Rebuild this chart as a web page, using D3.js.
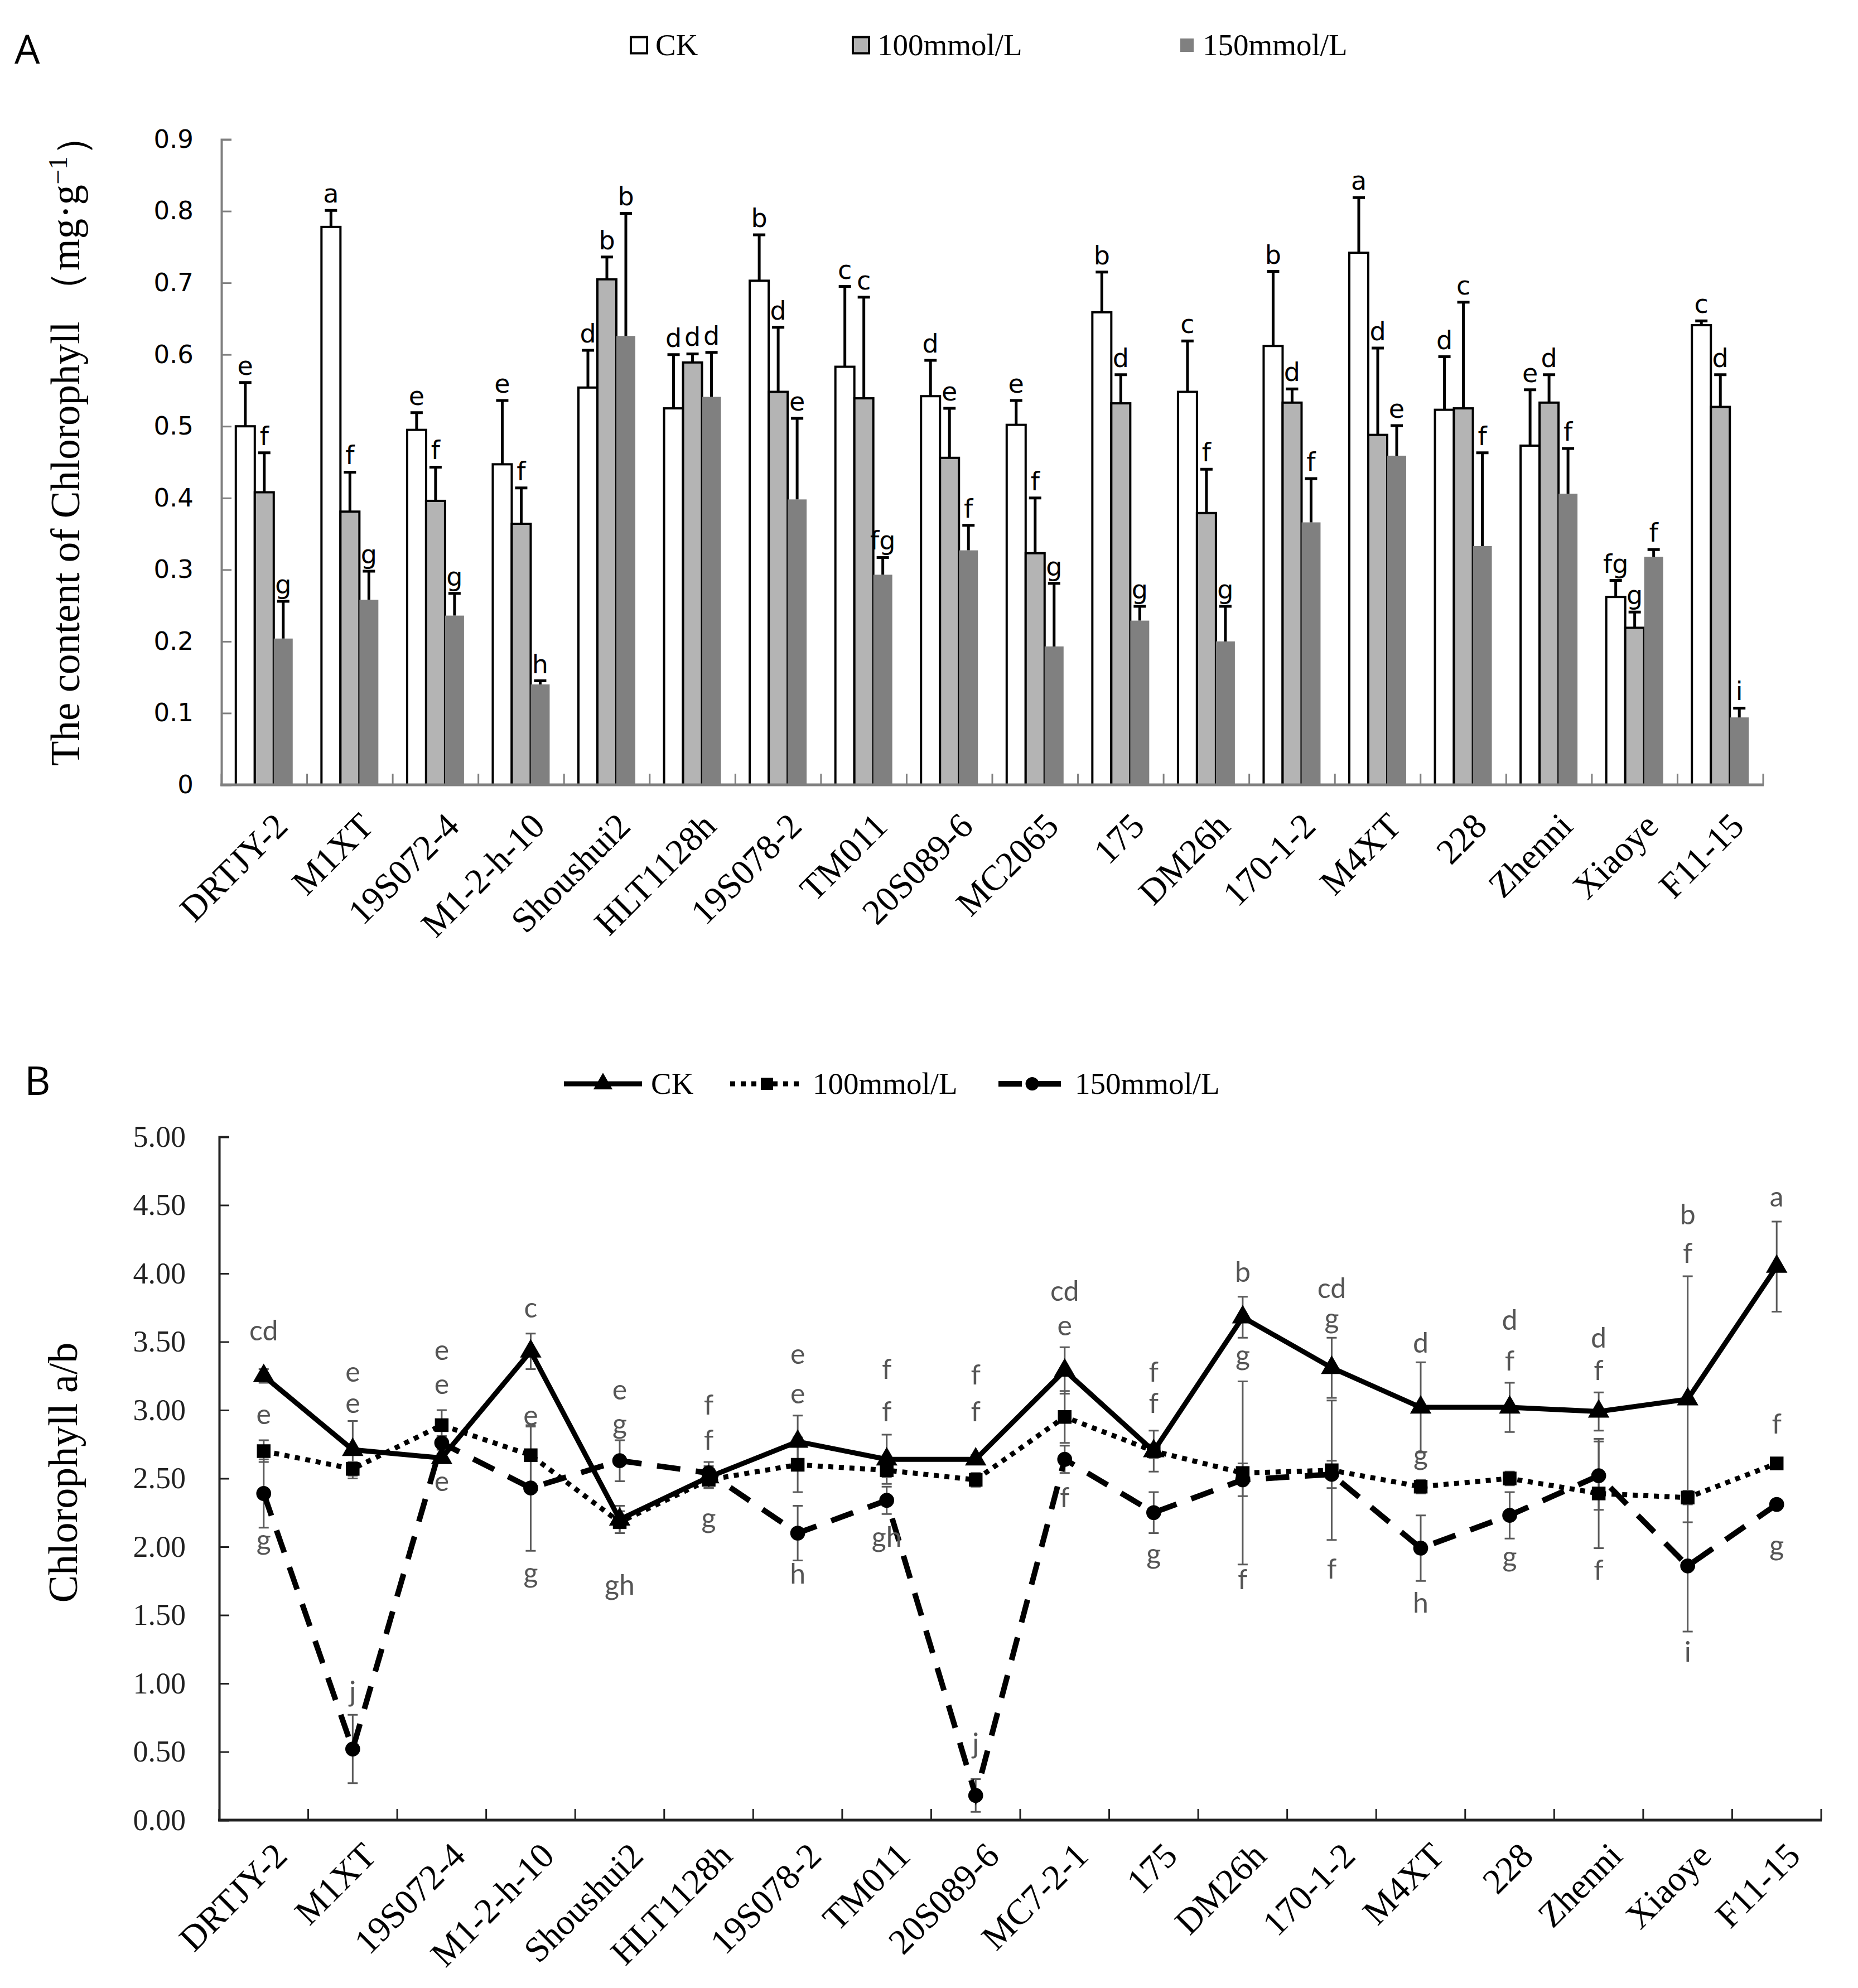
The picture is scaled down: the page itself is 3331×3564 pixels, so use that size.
<!DOCTYPE html>
<html>
<head>
<meta charset="utf-8">
<script src="https://cdn.jsdelivr.net/npm/d3@7"></script>
<style>
  body { margin: 0; background: #fff; }
  svg { display: block; }
</style>
</head>
<body>
<script>
// ---- data: panel A, chlorophyll content (mg/g) ----
var cultivarsA = ['DRTJY-2', 'M1XT', '19S072-4', 'M1-2-h-10', 'Shoushui2', 'HLT1128h', '19S078-2', 'TM011',
  '20S089-6', 'MC2065', '175', 'DM26h', '170-1-2', 'M4XT', '228', 'Zhenni', 'Xiaoye', 'F11-15'];
var ckA = [0.500, 0.778, 0.495, 0.447, 0.554, 0.525, 0.703, 0.583, 0.542, 0.502, 0.659, 0.548, 0.612, 0.742, 0.523, 0.473, 0.262, 0.641];
var ckSdA = [0.061, 0.023, 0.024, 0.089, 0.052, 0.075, 0.064, 0.112, 0.050, 0.034, 0.056, 0.071, 0.104, 0.077, 0.074, 0.078, 0.023, 0.006];
var ckLetA = ['e', 'a', 'e', 'e', 'd', 'd', 'b', 'c', 'd', 'e', 'b', 'c', 'b', 'a', 'd', 'e', 'fg', 'c'];
var t100A = [0.408, 0.381, 0.396, 0.364, 0.705, 0.589, 0.548, 0.539, 0.456, 0.323, 0.532, 0.379, 0.533, 0.488, 0.525, 0.533, 0.219, 0.527];
var t100SdA = [0.055, 0.055, 0.047, 0.050, 0.031, 0.012, 0.090, 0.141, 0.069, 0.077, 0.040, 0.061, 0.019, 0.121, 0.148, 0.039, 0.022, 0.045];
var t100LetA = ['f', 'f', 'f', 'f', 'b', 'd', 'd', 'c', 'e', 'f', 'd', 'f', 'd', 'd', 'c', 'd', 'g', 'd'];
var t150A = [0.204, 0.258, 0.236, 0.140, 0.626, 0.541, 0.398, 0.293, 0.327, 0.193, 0.229, 0.200, 0.366, 0.459, 0.333, 0.406, 0.318, 0.094];
var t150SdA = [0.052, 0.040, 0.031, 0.005, 0.171, 0.062, 0.113, 0.024, 0.035, 0.088, 0.020, 0.049, 0.061, 0.042, 0.130, 0.063, 0.010, 0.013];
var t150LetA = ['g', 'g', 'g', 'h', 'b', 'd', 'e', 'fg', 'f', 'g', 'g', 'g', 'f', 'e', 'f', 'f', 'f', 'i'];
var ticksA = [0, 0.1, 0.2, 0.3, 0.4, 0.5, 0.6, 0.7, 0.8, 0.9];

// ---- data: panel B, chlorophyll a/b ----
var cultivarsB = ['DRTJY-2', 'M1XT', '19S072-4', 'M1-2-h-10', 'Shoushui2', 'HLT1128h', '19S078-2', 'TM011',
  '20S089-6', 'MC7-2-1', '175', 'DM26h', '170-1-2', 'M4XT', '228', 'Zhenni', 'Xiaoye', 'F11-15'];
var ckB = [3.25, 2.71, 2.65, 3.43, 2.20, 2.51, 2.77, 2.64, 2.64, 3.29, 2.70, 3.68, 3.31, 3.02, 3.02, 2.99, 3.08, 4.05];
var ckSdB = [0.05, 0.21, 0.03, 0.13, 0.10, 0.08, 0.19, 0.18, 0.03, 0.17, 0.15, 0.15, 0.22, 0.33, 0.18, 0.14, 0.90, 0.33];
var t100B = [2.70, 2.57, 2.89, 2.67, 2.18, 2.49, 2.60, 2.56, 2.49, 2.95, 2.70, 2.54, 2.56, 2.44, 2.50, 2.39, 2.36, 2.61];
var t100SdB = [0.08, 0.05, 0.11, 0.21, 0.08, 0.06, 0.20, 0.05, 0.05, 0.19, 0.05, 0.67, 0.51, 0.05, 0.05, 0.40, 0.05, 0];
var t150B = [2.39, 0.52, 2.76, 2.43, 2.63, 2.54, 2.10, 2.34, 0.18, 2.64, 2.25, 2.49, 2.53, 1.99, 2.23, 2.52, 1.86, 2.31];
var t150SdB = [0.25, 0.25, 0.05, 0.46, 0.15, 0.08, 0.20, 0.10, 0.12, 0.10, 0.15, 0.12, 0.10, 0.24, 0.17, 0.25, 0.48, 0];
// significance letters of panel B, three per cultivar, with the value they sit at
var letB = [['cd', 'e', 'g'], ['e', 'e', 'j'], ['e', 'e', 'e'], ['c', 'e', 'g'], ['e', 'g', 'gh'], ['f', 'f', 'g'],
  ['e', 'e', 'h'], ['f', 'f', 'gh'], ['f', 'f', 'j'], ['cd', 'e', 'f'], ['f', 'f', 'g'], ['b', 'g', 'f'],
  ['cd', 'g', 'f'], ['d', 'g', 'h'], ['d', 'f', 'g'], ['d', 'f', 'f'], ['b', 'f', 'i'], ['a', 'f', 'g']];
var letBAt = [[3.57, 2.96, 2.04], [3.27, 3.04, 0.93], [3.43, 3.18, 2.47], [3.74, 2.95, 1.80], [3.14, 2.89, 1.71],
  [3.03, 2.77, 2.20], [3.40, 3.11, 1.79], [3.29, 2.98, 2.06], [3.25, 2.98, 0.55], [3.86, 3.61, 2.35],
  [3.27, 3.04, 1.94], [4.00, 3.39, 1.75], [3.88, 3.66, 1.83], [3.48, 2.66, 1.58], [3.65, 3.35, 1.92],
  [3.52, 3.28, 1.82], [4.42, 4.14, 1.22], [4.55, 2.89, 2.00]];
var ticksB = [0, 0.5, 1, 1.5, 2, 2.5, 3, 3.5, 4, 4.5, 5];

var serif = '"Liberation Serif", "Times New Roman", serif';
var W = 3331, H = 3564;

var svg = d3.select('body').append('svg')
    .attr('width', W)
    .attr('height', H)
    .attr('viewBox', '0 0 ' + W + ' ' + H);

// ================= panel A =================
var gA = svg.append('g');

var xA = d3.scaleBand().domain(cultivarsA).range([397, 3161]);
var yA = d3.scaleLinear().domain([0, 0.9]).range([1407, 250]);
var barW = 34;

var seriesA = [
  { name: 'CK', values: ckA, sd: ckSdA, letters: ckLetA, fill: '#ffffff', stroke: '#000' },
  { name: '100mmol/L', values: t100A, sd: t100SdA, letters: t100LetA, fill: '#b4b4b4', stroke: '#000' },
  { name: '150mmol/L', values: t150A, sd: t150SdA, letters: t150LetA, fill: '#808080', stroke: 'none' }
];

gA.append('text')
    .attr('x', 26).attr('y', 114)
    .style('font-family', '"Open Sans", sans-serif')
    .style('font-size', '72px')
    .text('A');

seriesA.forEach(function(s, k) {
  var g = gA.append('g');
  var cx = function(i) { return xA(cultivarsA[i]) + xA.bandwidth() / 2 + (k - 1) * barW; };

  g.selectAll('rect')
      .data(s.values)
    .enter().append('rect')
      .attr('x', function(d, i) { return cx(i) - barW / 2; })
      .attr('y', function(d) { return yA(d); })
      .attr('width', barW)
      .attr('height', function(d) { return yA(0) - yA(d); })
      .attr('fill', s.fill)
      .attr('stroke', s.stroke)
      .attr('stroke-width', 4);

  // upper error bars
  g.selectAll('path.err')
      .data(s.values)
    .enter().append('path')
      .attr('class', 'err')
      .attr('d', function(d, i) {
        var x = cx(i), y0 = yA(d), y1 = yA(d + s.sd[i]);
        return 'M' + x + ',' + y0 + 'V' + y1 + 'M' + (x - 11) + ',' + y1 + 'H' + (x + 11);
      })
      .attr('stroke', '#000')
      .attr('stroke-width', 5)
      .attr('fill', 'none');

  g.selectAll('text')
      .data(s.letters)
    .enter().append('text')
      .attr('x', function(d, i) { return cx(i); })
      .attr('y', function(d, i) { return yA(s.values[i] + s.sd[i]) - 14; })
      .attr('text-anchor', 'middle')
      .style('font-family', '"DejaVu Sans", sans-serif')
      .style('font-size', '46px')
      .text(function(d) { return d; });
});

// axes A
var axA = gA.append('g')
    .attr('transform', 'translate(397,0)')
    .call(d3.axisLeft(yA).tickValues(ticksA).tickSize(-18).tickPadding(50)
      .tickFormat(function(d) { return d === 0 ? '0' : d3.format('.1f')(d); }));
axA.select('.domain').attr('stroke', '#808080').attr('stroke-width', 4);
axA.selectAll('.tick line').attr('stroke', '#808080').attr('stroke-width', 3);
axA.selectAll('.tick text')
    .style('font-family', '"DejaVu Sans", sans-serif')
    .style('font-size', '45px')
    .attr('fill', '#000');

var edgesA = cultivarsA.map(function(c) { return xA(c); }).concat([xA.range()[1]]);
gA.append('g').selectAll('line')
    .data(edgesA)
  .enter().append('line')
    .attr('x1', function(d) { return d; })
    .attr('x2', function(d) { return d; })
    .attr('y1', yA(0))
    .attr('y2', yA(0) - 20)
    .attr('stroke', '#808080')
    .attr('stroke-width', 3);
gA.append('line')
    .attr('x1', 395).attr('x2', xA.range()[1] + 1)
    .attr('y1', yA(0)).attr('y2', yA(0))
    .attr('stroke', '#808080').attr('stroke-width', 5);

gA.append('g').selectAll('text')
    .data(cultivarsA)
  .enter().append('text')
    .attr('transform', function(d) {
      return 'translate(' + (xA(d) + xA.bandwidth() / 2 + 14) + ',' + (yA(0) + 46) + ') rotate(-45)';
    })
    .attr('text-anchor', 'end')
    .attr('dy', '0.7em')
    .style('font-family', serif)
    .style('font-size', '64px')
    .text(function(d) { return d; });

var titleA = gA.append('text')
    .attr('transform', 'translate(142,790) rotate(-90)')
    .attr('text-anchor', 'middle')
    .style('font-family', serif)
    .style('font-size', '73px');
titleA.append('tspan').text('The content of Chlorophyll\u00a0\uff08mg\u00b7g');
titleA.append('tspan').attr('dy', '-0.45em').style('font-size', '48px').text('\u22121');
titleA.append('tspan').attr('dy', '0.45em').text('\uff09');

// legend A
var legA = gA.append('g');
var legAX = [1131, 1529, 2116];
seriesA.forEach(function(s, k) {
  var sz = k === 2 ? 24 : 29;
  legA.append('rect')
      .attr('x', legAX[k]).attr('y', 81 - sz / 2)
      .attr('width', sz).attr('height', sz)
      .attr('fill', s.fill)
      .attr('stroke', s.stroke)
      .attr('stroke-width', 4);
  legA.append('text')
      .attr('x', legAX[k] + (k === 2 ? 40 : 44)).attr('y', 99)
      .style('font-family', serif)
      .style('font-size', '55px')
      .text(s.name);
});

// ================= panel B =================
var gB = svg.append('g');

var xB = d3.scaleBand().domain(cultivarsB).range([393, 3265]);
var yB = d3.scaleLinear().domain([0, 5]).range([3263, 2038]);
var px = function(i) { return xB(cultivarsB[i]) + xB.bandwidth() / 2; };

gB.append('text')
    .attr('x', 44).attr('y', 1963)
    .style('font-family', '"Open Sans", sans-serif')
    .style('font-size', '72px')
    .text('B');

var seriesB = [
  { name: 'CK', values: ckB, sd: ckSdB, dash: null, width: 9, symbol: d3.symbolTriangle, size: 640 },
  { name: '100mmol/L', values: t100B, sd: t100SdB, dash: '9,10', width: 9, symbol: d3.symbolSquare, size: 600 },
  { name: '150mmol/L', values: t150B, sd: t150SdB, dash: '42,28', width: 10, symbol: d3.symbolCircle, size: 560 }
];

// axes B
var axB = gB.append('g')
    .attr('transform', 'translate(393,0)')
    .call(d3.axisLeft(yB).tickValues(ticksB).tickSize(-18).tickPadding(60).tickFormat(d3.format('.2f')));
axB.select('.domain').attr('stroke', '#222').attr('stroke-width', 4);
axB.selectAll('.tick line').attr('stroke', '#222').attr('stroke-width', 3);
axB.selectAll('.tick text')
    .style('font-family', serif)
    .style('font-size', '54px')
    .attr('fill', '#222');

var edgesB = cultivarsB.map(function(c) { return xB(c); }).concat([xB.range()[1]]);
gB.append('g').selectAll('line')
    .data(edgesB)
  .enter().append('line')
    .attr('x1', function(d) { return d; })
    .attr('x2', function(d) { return d; })
    .attr('y1', yB(0))
    .attr('y2', yB(0) - 20)
    .attr('stroke', '#222')
    .attr('stroke-width', 3);
gB.append('line')
    .attr('x1', 391).attr('x2', xB.range()[1] + 1)
    .attr('y1', yB(0)).attr('y2', yB(0))
    .attr('stroke', '#222').attr('stroke-width', 5);

gB.append('g').selectAll('text')
    .data(cultivarsB)
  .enter().append('text')
    .attr('transform', function(d) {
      return 'translate(' + (xB(d) + xB.bandwidth() / 2 + 14) + ',' + (yB(0) + 36) + ') rotate(-45)';
    })
    .attr('text-anchor', 'end')
    .attr('dy', '0.7em')
    .style('font-family', serif)
    .style('font-size', '64px')
    .text(function(d) { return d; });

gB.append('text')
    .attr('transform', 'translate(138,2640) rotate(-90)')
    .attr('text-anchor', 'middle')
    .style('font-family', serif)
    .style('font-size', '74px')
    .text('Chlorophyll a/b');

// error bars (behind the lines)
var errB = gB.append('g');
seriesB.forEach(function(s) {
  errB.append('g').selectAll('path')
      .data(s.values)
    .enter().append('path')
      .attr('d', function(d, i) {
        if (!s.sd[i]) return null;
        var x = px(i), y1 = yB(d + s.sd[i]), y2 = yB(d - s.sd[i]);
        return 'M' + x + ',' + y1 + 'V' + y2 +
          'M' + (x - 9) + ',' + y1 + 'H' + (x + 9) +
          'M' + (x - 9) + ',' + y2 + 'H' + (x + 9);
      })
      .attr('stroke', '#5a5a5a')
      .attr('stroke-width', 3)
      .attr('fill', 'none');
});

var line = d3.line()
    .x(function(d, i) { return px(i); })
    .y(function(d) { return yB(d); });

seriesB.slice().reverse().forEach(function(s) {
  var g = gB.append('g');
  g.append('path')
      .datum(s.values)
      .attr('d', line)
      .attr('fill', 'none')
      .attr('stroke', '#000')
      .attr('stroke-width', s.width)
      .attr('stroke-dasharray', s.dash);
  g.selectAll('path.mark')
      .data(s.values)
    .enter().append('path')
      .attr('class', 'mark')
      .attr('transform', function(d, i) { return 'translate(' + px(i) + ',' + yB(d) + ')'; })
      .attr('d', d3.symbol().type(s.symbol).size(s.size))
      .attr('fill', '#000');
});

// significance letters B
var lettersB = gB.append('g');
letB.forEach(function(trio, i) {
  lettersB.selectAll(null)
      .data(trio)
    .enter().append('text')
      .attr('x', px(i))
      .attr('y', function(d, k) { return yB(letBAt[i][k]); })
      .attr('dy', '0.3em')
      .attr('text-anchor', 'middle')
      .style('font-family', 'Lato, sans-serif')
      .style('font-size', '50px')
      .attr('fill', '#555')
      .text(function(d) { return d; });
});

// legend B
var legB = gB.append('g');
var legBX = [[1011, 1151], [1309, 1441], [1790, 1911]];
seriesB.forEach(function(s, k) {
  var x0 = legBX[k][0], x1 = legBX[k][1];
  legB.append('line')
      .attr('x1', x0).attr('x2', x1)
      .attr('y1', 1943).attr('y2', 1943)
      .attr('stroke', '#000')
      .attr('stroke-width', s.width)
      .attr('stroke-dasharray', s.dash);
  legB.append('path')
      .attr('transform', 'translate(' + ((x0 + x1) / 2) + ',1943)')
      .attr('d', d3.symbol().type(s.symbol).size(s.size * 0.8))
      .attr('fill', '#000');
  legB.append('text')
      .attr('x', x1 + 16).attr('y', 1961)
      .style('font-family', serif)
      .style('font-size', '55px')
      .text(s.name);
});
</script>
</body>
</html>
